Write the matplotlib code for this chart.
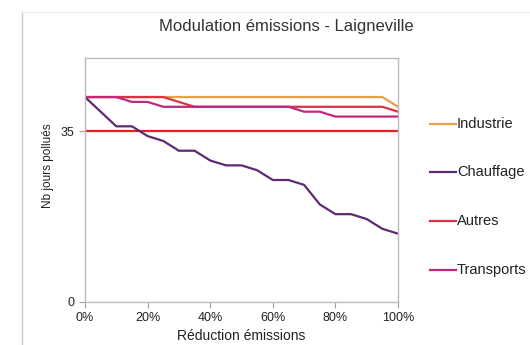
import matplotlib
matplotlib.use("Agg")
import matplotlib.pyplot as plt
from matplotlib.lines import Line2D

plt.rcParams["font.family"] = ["Liberation Sans", "DejaVu Sans"]

# reduction in %, one point every 5 %
reduction = [0, 5, 10, 15, 20, 25, 30, 35, 40, 45, 50,
             55, 60, 65, 70, 75, 80, 85, 90, 95, 100]

industrie = [42, 42, 42, 42, 42, 42, 42, 42, 42, 42, 42,
             42, 42, 42, 42, 42, 42, 42, 42, 42, 40]
chauffage = [42, 39, 36, 36, 34, 33, 31, 31, 29, 28, 28,
             27, 25, 25, 24, 20, 18, 18, 17, 15, 14]
autres = [42, 42, 42, 42, 42, 42, 41, 40, 40, 40, 40,
          40, 40, 40, 40, 40, 40, 40, 40, 40, 39]
transports = [42, 42, 42, 41, 41, 40, 40, 40, 40, 40, 40,
              40, 40, 40, 39, 39, 38, 38, 38, 38, 38]
seuil = [35] * len(reduction)

names = ["Industrie", "Chauffage", "Autres", "Transports"]
colors = ["#E6A048", "#5E2A72", "#D63444", "#C0287A"]

fig = plt.figure(figsize=(5.3, 3.45), dpi=100)
ax = fig.add_axes([85 / 530, 1 - 302 / 345, 313 / 530, 244 / 345])

ax.plot(reduction, seuil, color="#E82020", lw=1.6)
for series, c in zip([industrie, autres, transports, chauffage],
                     [colors[0], colors[2], colors[3], colors[1]]):
    ax.plot(reduction, series, color=c, lw=1.6)

ax.set_xlim(0, 100)
ax.set_ylim(0, 50)
ax.set_yticks([0, 35])
ax.set_xticks([0, 20, 40, 60, 80, 100])
ax.set_xticklabels(["0%", "20%", "40%", "60%", "80%", "100%"])
ax.tick_params(labelsize=9, colors="#A0A0A0", labelcolor="#222222",
               length=4, width=0.8, direction="out")
for sp in ax.spines.values():
    sp.set_color("#BBBBBB")
    sp.set_linewidth(1)

ax.set_xlabel("Réduction émissions", fontsize=10, color="#222222", labelpad=3)
fig.text(48 / 530, 1 - 166 / 345, "Nb jours pollués", rotation=90,
         fontsize=8.5, color="#222222", ha="center", va="center")
fig.text(286 / 530, 1 - 27 / 345, "Modulation émissions - Laigneville",
         fontsize=12, color="#333333", ha="center", va="center")

# legend, spread along the right side like in the original
leg_y = [124, 172, 221, 270]
for name, c, y in zip(names, colors, leg_y):
    yf = 1 - y / 345
    fig.add_artist(Line2D([430 / 530, 456 / 530], [yf, yf], color=c, lw=1.6))
    fig.text(457 / 530, yf, name, fontsize=10.5, color="#222222",
             ha="left", va="center")

# outer chart frame
fig.add_artist(Line2D([22 / 530, 22 / 530], [0, 1 - 12 / 345], color="#C8C8C8", lw=1))
fig.add_artist(Line2D([22 / 530, 1], [1 - 12 / 345, 1 - 12 / 345], color="#EEEEEE", lw=1))

fig.savefig("out.png", dpi=100)
